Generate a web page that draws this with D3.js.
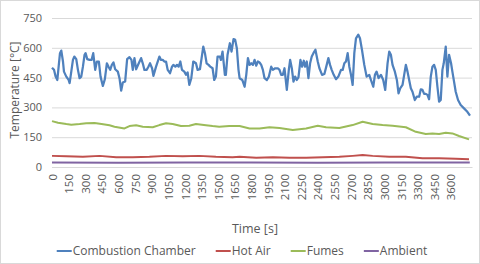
<!DOCTYPE html>
<html>
<head>
<meta charset="utf-8">
<script src="https://cdn.jsdelivr.net/npm/d3@7"></script>
<style>
  body { margin: 0; background: #fff; }
  text { font-family: "Open Sans", sans-serif; fill: #595959; }
</style>
</head>
<body>
<div id="chart"></div>
<script>
// Combustion Chamber (time s, temperature C)
const ccTime = [0,18,33,48,60,72,84,99,108,129,150,159,174,189,201,219,234,249,264,279,294,303,318,339,357,372,390,405,423,438,459,477,495,510,525,540,555,570,594,609,624,639,660,678,699,717,729,744,759,783,804,819,834,855,870,885,903,915,939,969,984,999,1014,1029,1044,1065,1083,1095,1113,1128,1143,1158,1173,1194,1209,1224,1239,1257,1275,1299,1314,1335,1350,1365,1380,1395,1413,1428,1449,1464,1479,1494,1515,1524,1539,1560,1569,1584,1605,1620,1638,1653,1668,1683,
  1693,1717,1738,1753,1768,1783,1798,1813,1828,1843,1858,1873,1888,1903,1918,1939,1957,1978,1993,2014,2038,2053,2068,2083,2098,2119,2137,2149,2164,2179,2194,2209,2224,2242,2257,2272,2284,2299,2314,2329,2344,2359,2377,2398,2413,2437,2458,2479,2494,2509,2524,2542,2563,2584,2608,2623,2638,2653,2668,2683,2698,2713,2728,2743,2764,2779,2797,2818,2839,2863,2878,2899,2914,2929,2947,2968,2989,3007,3028,3043,3058,3073,3094,3112,3127,3142,3163,3178,3193,3208,3223,3238,3253,3274,3292,3313,3328,3343,3358,3373,3388,3403,3418,3433,3448,3463,3478,3493,3508,3523,3535,3553,3568,3583,3601,3613,3628,3643,3664,3688,3718,3748,3772];
const ccTemp = [500,489,455,438,505,573,586,531,480,455,438,422,480,539,556,543,489,447,455,505,565,573,543,539,539,573,489,531,531,455,408,442,522,505,489,514,526,492,480,447,384,425,430,543,553,539,489,548,492,522,548,522,489,489,505,522,497,459,505,556,539,539,531,531,489,472,505,514,505,514,505,531,489,480,464,476,413,447,531,522,489,492,548,606,573,522,514,505,497,438,455,556,556,539,581,464,464,565,623,581,644,640,598,489,
  447,438,404,464,548,514,522,514,539,510,531,526,514,489,447,438,455,505,489,497,497,489,464,464,497,388,489,539,497,430,455,438,451,539,505,535,505,531,447,522,556,573,590,531,497,464,468,514,548,514,489,464,442,455,489,489,522,531,573,505,464,413,573,648,666,648,590,514,455,464,438,404,464,480,447,464,438,388,522,581,565,514,480,438,371,396,413,464,514,480,438,396,379,337,354,354,391,388,368,368,363,341,455,505,514,489,404,329,337,489,522,606,455,565,522,480,430,379,337,312,295,278,258];

const fumesTime = [0,54,129,174,249,309,384,447,519,564,654,699,759,819,909,969,1029,1089,1164,1239,1299,1389,1449,1509,1599,1693,1783,1873,1963,2053,2173,2293,2398,2473,2593,2713,2803,2893,2983,3073,3193,3283,3373,3433,3493,3553,3613,3673,3763];
const fumesTemp = [231,223,216,213,216,220,221,216,210,203,194,206,210,203,200,211,220,216,206,208,216,210,206,203,206,206,194,194,200,196,186,194,208,200,196,211,228,216,211,208,200,177,166,169,166,172,169,156,139];

const hotTime = [0,129,279,429,579,729,879,1029,1179,1329,1479,1629,1693,1843,1993,2143,2293,2443,2593,2713,2803,2893,3043,3193,3343,3493,3643,3763];
const hotTemp = [56,54,51,56,49,49,51,56,54,56,51,49,51,47,49,46,47,49,51,56,60,56,52,51,44,44,42,39];

const ambTime = [0,600,1200,1800,2400,3000,3600,3770];
const ambTemp = [23,22,23,23,22,23,23,23];

const xTicks = d3.range(0, 3601, 150);
const yTicks = [0, 150, 300, 450, 600, 750];

const seriesNames = ['Combustion Chamber', 'Hot Air', 'Fumes', 'Ambient'];
const seriesColors = ['#4F81BD', '#C0504D', '#9BBB59', '#8064A2'];

const width = 480, height = 264;
const margin = { top: 18, right: 8, bottom: 97, left: 52 };

const svg = d3.select('#chart')
  .append('svg')
  .attr('width', width)
  .attr('height', height);

svg.append('rect')
  .attr('x', 0.5).attr('y', 0.5)
  .attr('width', width - 1).attr('height', height - 1)
  .attr('fill', '#fff')
  .attr('stroke', '#d9d9d9');

const xScale = d3.scaleLinear()
  .domain([0, 3790])
  .range([margin.left, width - margin.right]);

const yScale = d3.scaleLinear()
  .domain([0, 750])
  .range([height - margin.bottom, margin.top]);

// gridlines + y labels
const yAxis = d3.axisLeft(yScale)
  .tickValues(yTicks)
  .tickSize(-(width - margin.right - margin.left))
  .tickPadding(10);

svg.append('g')
  .attr('transform', `translate(${margin.left},0)`)
  .call(yAxis)
  .call(g => g.select('.domain').remove())
  .call(g => g.selectAll('.tick line').attr('stroke', '#d9d9d9'))
  .call(g => g.selectAll('.tick text').style('font-size', '11px'));

// x labels, rotated
const xAxis = d3.axisBottom(xScale)
  .tickValues(xTicks)
  .tickSize(0)
  .tickFormat(d3.format('d'));

svg.append('g')
  .attr('transform', `translate(0,${yScale(0)})`)
  .call(xAxis)
  .call(g => g.select('.domain').attr('stroke', '#d9d9d9'))
  .call(g => g.selectAll('.tick text')
    .style('font-size', '11.5px')
    .attr('text-anchor', 'end')
    .attr('transform', 'rotate(-90)')
    .attr('x', -7)
    .attr('y', 0)
    .attr('dy', '0.35em'));

const allSeries = [
  { t: ccTime, v: ccTemp, w: 2.25 },
  { t: hotTime, v: hotTemp, w: 2 },
  { t: fumesTime, v: fumesTemp, w: 2 },
  { t: ambTime, v: ambTemp, w: 2 }
];

// draw back to front so the chamber line sits on top
allSeries.slice().reverse().forEach((s, j) => {
  const i = allSeries.length - 1 - j;
  const line = d3.line()
    .x((d, k) => xScale(s.t[k]))
    .y(d => yScale(d))
    .curve(d3.curveLinear);
  svg.append('path')
    .attr('d', line(s.v))
    .attr('fill', 'none')
    .attr('stroke', seriesColors[i])
    .attr('stroke-width', s.w)
    .attr('stroke-linejoin', 'round');
});

// axis titles
svg.append('text')
  .attr('transform', `translate(15,90) rotate(-90)`)
  .attr('text-anchor', 'middle')
  .attr('dy', '0.35em')
  .style('font-size', '12px')
  .text('Temperature [°C]');

svg.append('text')
  .attr('x', 255)
  .attr('y', 229)
  .attr('text-anchor', 'middle')
  .attr('dy', '0.35em')
  .style('font-size', '12.5px')
  .text('Time [s]');

// legend
const legend = svg.append('g');
let lx = 0;
seriesNames.forEach((name, i) => {
  const item = legend.append('g').attr('transform', `translate(${lx},0)`);
  item.append('line')
    .attr('x1', 0).attr('x2', 15)
    .attr('y1', 0).attr('y2', 0)
    .attr('stroke', seriesColors[i])
    .attr('stroke-width', 2);
  const t = item.append('text')
    .attr('x', 16)
    .attr('dy', '0.35em')
    .style('font-size', '12px')
    .text(name);
  lx += 16 + t.node().getComputedTextLength() + 20;
});
const legendWidth = lx - 20;
legend.attr('transform', `translate(${242 - legendWidth / 2},251)`);
</script>
</body>
</html>
